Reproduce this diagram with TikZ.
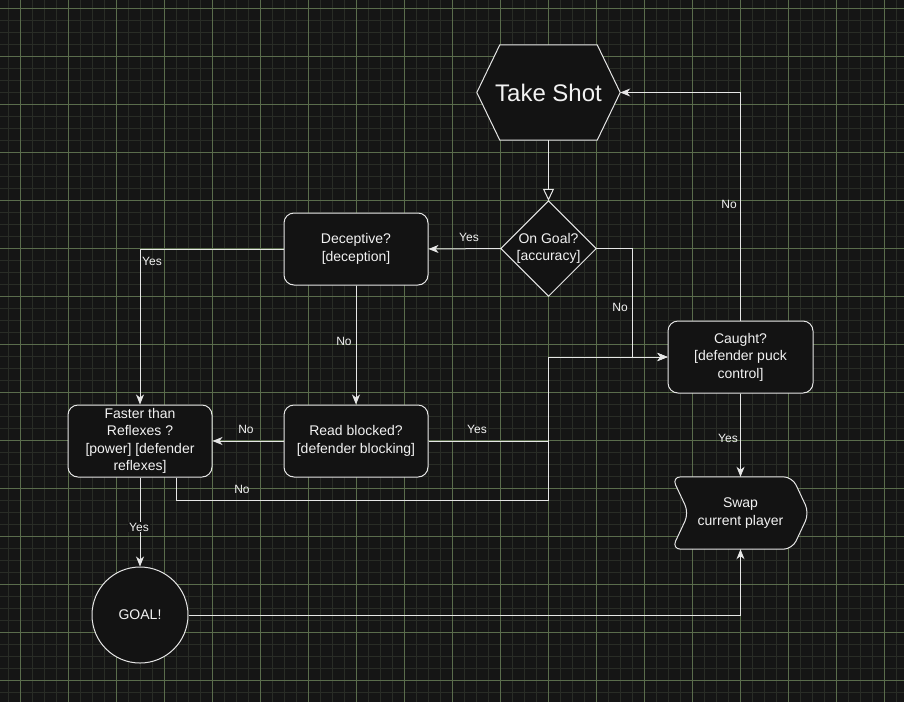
\documentclass[tikz,border=0pt]{standalone}
\usepackage{fontspec}
\setmainfont{Liberation Sans}
\usetikzlibrary{arrows.meta,calc}
\definecolor{bgc}{HTML}{151515}
\definecolor{minorc}{HTML}{292C26}
\definecolor{majorc}{HTML}{5A6C4C}
\definecolor{linec}{HTML}{E6E6E6}
\definecolor{fillc}{HTML}{131313}
\definecolor{txt}{HTML}{F2F2F2}
\pgfdeclarelayer{back}
\pgfdeclarelayer{mid}
\pgfsetlayers{back,mid,main}
\tikzset{
  nodetext/.style={inner sep=0, align=center, text=txt, font=\fontsize{14}{17.5}\selectfont},
  box/.style={nodetext, rectangle, rounded corners=10, draw=linec, fill=fillc, line width=1pt, minimum width=144, minimum height=72},
  plain/.style={nodetext, rectangle},
  outline/.style={draw=linec, fill=fillc, line width=1pt},
  conn/.style={draw=linec, line width=1pt, -{Stealth[length=10pt,width=8pt,inset=3pt]}},
  openconn/.style={draw=linec, line width=1pt, -{Triangle[length=12pt,width=11pt,fill=fillc]}},
  lbl/.style={text=txt, inner sep=1pt, font=\fontsize{12}{14}\selectfont},
  minorgrid/.style={draw=minorc, line width=1pt},
  majorgrid/.style={draw=majorc, line width=0.8pt}
}
\begin{document}
\begin{tikzpicture}[x=1pt,y=-1pt]
\useasboundingbox (0,0) rectangle (904,702);
\begin{pgfonlayer}{back}
  \fill[bgc] (0,0) rectangle (904,702);
  \foreach \x in {8,20,...,900} \draw[minorgrid] (\x,0) -- (\x,702);
  \foreach \y in {8,20,...,700} \draw[minorgrid] (0,\y) -- (904,\y);
  \foreach \x in {20,68,...,900} \draw[majorgrid] (\x,0) -- (\x,702);
  \foreach \y in {8,56,...,700} \draw[majorgrid] (0,\y) -- (904,\y);
\end{pgfonlayer}

% nodes
\node[plain, minimum width=143, minimum height=95, font=\fontsize{24}{28}\selectfont] (ts) at (548.5,92.5) {Take Shot};
\node[plain, minimum width=95, minimum height=95] (og) at (548.5,248.5) {On Goal?\\{}[accuracy]};
\node[box] (dec) at (356,249) {Deceptive?\\{}[deception]};
\node[box, minimum width=145] (cau) at (740.5,357) {Caught?\\{}[defender puck\\control]};
\node[box] (fr) at (140,441) {Faster than\\Reflexes ?\\{}[power] [defender\\reflexes]};
\node[box] (rb) at (356,441) {Read blocked?\\{}[defender blocking]};
\node[plain, minimum width=137, minimum height=72] (sw) at (740.5,513) {Swap\\current player};
\node[nodetext, circle, draw=linec, fill=fillc, line width=1pt, minimum size=96] (goal) at (140,615) {GOAL!};

\begin{pgfonlayer}{mid}
  \draw[outline] (ts.west) -- ([xshift=23pt]ts.north west) -- ([xshift=-23pt]ts.north east) -- (ts.east)
     -- ([xshift=-23pt]ts.south east) -- ([xshift=23pt]ts.south west) -- cycle;
  \draw[outline] (og.north) -- (og.east) -- (og.south) -- (og.west) -- cycle;
  \draw[outline, rounded corners=9pt] (sw.north west) -- ([xshift=-17pt]sw.north east) -- (sw.east)
     -- ([xshift=-17pt]sw.south east) -- (sw.south west) -- ([xshift=17pt]sw.west) -- cycle;
\end{pgfonlayer}

% connectors
\draw[openconn] (ts.south) -- (og.north);
\draw[conn] (og.west) -- (dec.east);
\draw[conn] (og.east) -- ++(36,0) |- (cau.west);
\draw[conn] (cau.north) |- (ts.east);
\draw[conn] (cau.south) -- (sw.north);
\draw[conn] (dec.west) -| (fr.north);
\draw[conn] (dec.south) -- (rb.north);
\draw[conn] (rb.west) -- (fr.east);
\draw[conn] (rb.east) -- ++(120,0) |- (cau.west);
\draw[conn] ([xshift=36pt]fr.south) |- ($(rb.east)+(120,59)$) |- (cau.west);
\draw[conn] (fr.south) -- (goal.north);
\draw[conn] (goal.east) -| (sw.south);

% labels
\node[lbl] (l1) at (469,237) {Yes};
\node[lbl] (l2) at (620,307) {No};
\node[lbl] (l3) at (729,204) {No};
\node[lbl] (l4) at (728,438) {Yes};
\node[lbl] (l5) at (152,261) {Yes};
\node[lbl] (l6) at (344,341) {No};
\node[lbl] (l7) at (246,429) {No};
\node[lbl] (l8) at (477,429) {Yes};
\node[lbl] (l9) at (242,489) {No};
\node[lbl, fill=bgc] (l10) at (139,527) {Yes};
\end{tikzpicture}
\end{document}
